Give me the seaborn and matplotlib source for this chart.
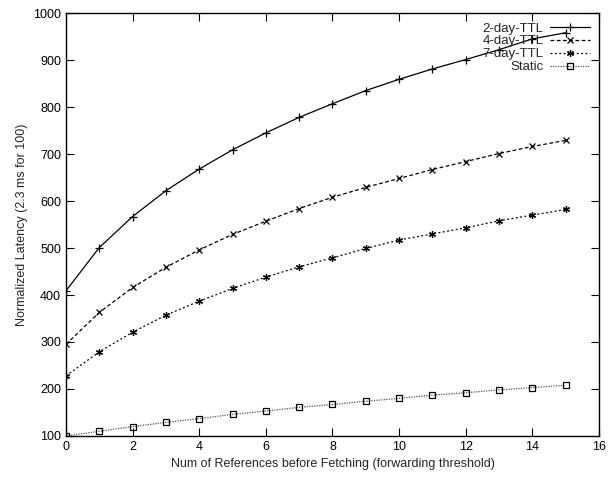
import numpy as np
import pandas as pd
import matplotlib
matplotlib.use("Agg")
import matplotlib.pyplot as plt
import seaborn as sns

# forwarding threshold (x) and normalized latency per policy
thresholds = list(range(16))
ttl_2day = [409, 501, 567, 622, 668, 709, 745, 778, 807, 835, 859, 881, 901, 922, 945, 958]
ttl_4day = [295, 363, 416, 459, 496, 529, 557, 584, 608, 629, 648, 667, 684, 701, 716, 729]
ttl_7day = [228, 279, 321, 357, 387, 414, 438, 460, 479, 499, 517, 530, 543, 558, 570, 582]
static = [100, 110, 120, 129, 137, 146, 153, 161, 167, 174, 180, 187, 192, 198, 203, 208]

series = {
    "2-day-TTL": ttl_2day,
    "4-day-TTL": ttl_4day,
    "7-day-TTL": ttl_7day,
    "Static": static,
}
styles = {
    "2-day-TTL": dict(marker="+", dashes=(), color="black", markersize=6),
    "4-day-TTL": dict(marker="x", dashes=(3, 2), color="black", markersize=4.5),
    "7-day-TTL": dict(marker=(6, 2, 0), dashes=(1.5, 2), color="black", markersize=5),
    "Static": dict(marker="s", dashes=(1, 1), color="#555555", markersize=4.5,
                   markerfacecolor="none", markeredgecolor="black"),
}

df = pd.concat([pd.DataFrame({"x": thresholds, "y": v, "policy": k}) for k, v in series.items()])

sns.set_style("ticks")
plt.rcParams["font.family"] = ["Liberation Sans", "DejaVu Sans"]
plt.rcParams["font.size"] = 9

fig = plt.figure(figsize=(6.14, 4.79), dpi=100)
ax = fig.add_axes([0.1075, 0.0898, 0.868, 0.883])

for name in series:
    sub = df[df["policy"] == name]
    st = styles[name]
    kw = dict(markeredgewidth=0.9)
    if "markerfacecolor" in st:
        kw["markerfacecolor"] = st["markerfacecolor"]
        kw["markeredgecolor"] = st["markeredgecolor"]
    else:
        kw["markeredgecolor"] = st["color"]
    sns.lineplot(data=sub, x="x", y="y", ax=ax, label=name, color=st["color"],
                 marker=st["marker"], markersize=st["markersize"], linewidth=0.9, **kw)

for line, name in zip(ax.get_lines(), series):
    d = styles[name]["dashes"]
    if d:
        line.set_dashes(d)
    else:
        line.set_linestyle("-")

ax.set_xlim(0, 16)
ax.set_ylim(100, 1000)
ax.set_xticks(np.arange(0, 17, 2))
ax.set_yticks(np.arange(100, 1001, 100))
ax.tick_params(direction="in", length=6, width=0.8, top=True, right=True, labelsize=9,
               colors="black")
for s in ax.spines.values():
    s.set_linewidth(1.0)
    s.set_color("black")
ax.set_xlabel("Num of References before Fetching (forwarding threshold)", fontsize=9)
ax.set_ylabel("Normalized Latency (2.3 ms for 100)", fontsize=9)

leg = ax.legend(loc="upper right", frameon=False, markerfirst=False, handlelength=3.0,
                labelspacing=0.05, borderaxespad=0.3, handletextpad=0.5, fontsize=9.5)

fig.savefig("out.png", dpi=100)
